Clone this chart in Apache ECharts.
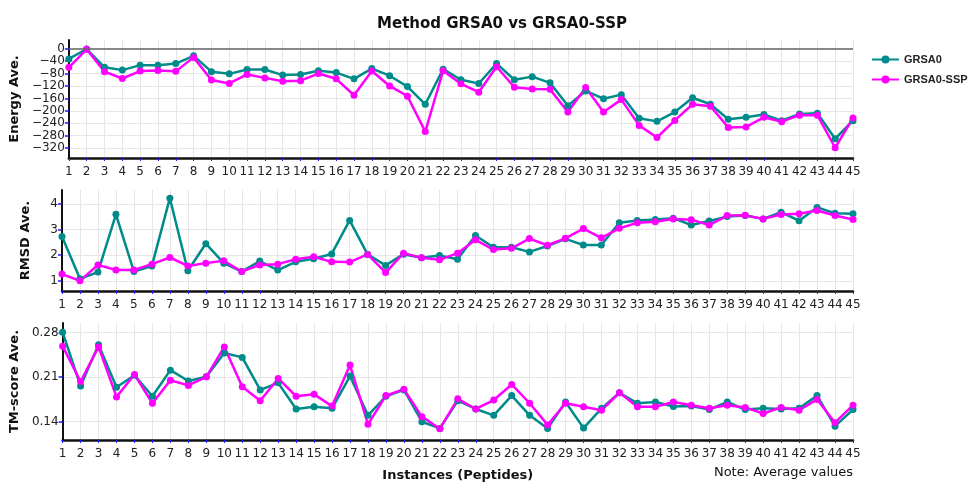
<!DOCTYPE html>
<html>
<head>
<meta charset="utf-8">
<script src="https://cdn.jsdelivr.net/npm/echarts@6/dist/echarts.min.js"></script>
<style>
  html, body { margin: 0; padding: 0; background: #fff; }
  #chart { width: 975px; height: 484px; }
</style>
</head>
<body>
<div id="chart"></div>
<script>
// peptides 1..45
var instances = [];
for (var i = 1; i <= 45; i++) instances.push(String(i));

var energyGrsa0 = [-33, -1, -60, -69, -53, -53, -48, -23, -74, -81, -67, -67, -85, -83, -71,
  -77, -97, -64, -87, -122, -179, -66, -100, -112, -48, -100, -90, -110, -184, -136,
  -161, -148, -224, -234, -204, -158, -179, -227, -221, -212, -232, -210, -208, -290, -232];
var energySsp = [-60, -2, -74, -96, -72, -70, -73, -28, -101, -112, -83, -94, -105, -103, -80,
  -97, -150, -72, -120, -153, -267, -71, -113, -140, -58, -124, -130, -131, -204, -125,
  -204, -164, -247, -286, -231, -179, -185, -254, -252, -221, -235, -214, -214, -319, -223];

var rmsdGrsa0 = [2.73, 1.08, 1.34, 3.60, 1.36, 1.58, 4.23, 1.39, 2.45, 1.69, 1.36, 1.77, 1.42, 1.74, 1.86,
  2.05, 3.36, 2.03, 1.60, 2.04, 1.90, 1.99, 1.84, 2.77, 2.31, 2.31, 2.13, 2.36, 2.64, 2.40,
  2.40, 3.27, 3.36, 3.40, 3.45, 3.18, 3.34, 3.51, 3.55, 3.42, 3.68, 3.35, 3.87, 3.64, 3.62];
var rmsdSsp = [1.26, 1.00, 1.62, 1.42, 1.42, 1.65, 1.91, 1.58, 1.69, 1.78, 1.36, 1.62, 1.65, 1.84, 1.94,
  1.74, 1.73, 2.03, 1.32, 2.08, 1.90, 1.82, 2.08, 2.60, 2.22, 2.27, 2.65, 2.39, 2.66, 3.04,
  2.68, 3.05, 3.27, 3.31, 3.42, 3.39, 3.18, 3.55, 3.56, 3.42, 3.59, 3.62, 3.75, 3.55, 3.40];

var tmGrsa0 = [0.2805, 0.196, 0.261, 0.194, 0.213, 0.180, 0.221, 0.204, 0.2105, 0.248, 0.241, 0.190, 0.201, 0.160, 0.1635,
  0.161, 0.2116, 0.150, 0.180, 0.190, 0.140, 0.1295, 0.173, 0.160, 0.150, 0.181, 0.150, 0.1295, 0.171, 0.130,
  0.161, 0.1855, 0.169, 0.171, 0.164, 0.1645, 0.159, 0.171, 0.159, 0.161, 0.160, 0.161, 0.181, 0.133, 0.159];
var tmSsp = [0.2586, 0.203, 0.2575, 0.179, 0.214, 0.169, 0.205, 0.197, 0.2105, 0.2575, 0.195, 0.173, 0.208, 0.180, 0.183,
  0.1645, 0.229, 0.136, 0.181, 0.191, 0.148, 0.129, 0.176, 0.160, 0.174, 0.1985, 0.169, 0.135, 0.169, 0.1635,
  0.158, 0.1855, 0.1635, 0.1635, 0.171, 0.166, 0.161, 0.166, 0.1625, 0.153, 0.1625, 0.158, 0.175, 0.1385, 0.166];

var energyTicks = [-320, -280, -240, -200, -160, -120, -80, -40, 0];
var rmsdTicks = [1, 2, 3, 4];
var tmTicks = [0.14, 0.21, 0.28];

var TEAL = '#008b8b';
var MAGENTA = '#ff00ff';
var FONT = 'DejaVu Sans';

var chart = echarts.init(document.getElementById('chart'));

var grids = [
  { left: 62, top: 40, width: 791, height: 118 },
  { left: 62, top: 190, width: 791, height: 101 },
  { left: 62, top: 323, width: 791, height: 117 }
];

function xAxisFor(idx, extra) {
  var ax = {
    type: 'category',
    gridIndex: idx,
    data: instances,
    boundaryGap: false,
    axisLine: { onZero: false, lineStyle: { color: '#111', width: 2.5 } },
    axisTick: { show: true, interval: 0, length: 3, lineStyle: { color: '#1a1aff', width: 1 } },
    axisLabel: { interval: 0, margin: 8, fontFamily: FONT, fontSize: 12, color: '#222' },
    splitLine: { show: true, interval: 0, lineStyle: { color: '#e6e6e6', width: 1 } }
  };
  return Object.assign(ax, extra || {});
}

function yAxisFor(idx, name, gap, min, max, ticks, fmt) {
  return {
    type: 'value',
    gridIndex: idx,
    min: min,
    max: max,
    name: name,
    nameLocation: 'middle',
    nameGap: gap,
    nameTextStyle: { fontFamily: FONT, fontSize: 13, fontWeight: 'bold', color: '#111' },
    axisLine: { show: true, lineStyle: { color: '#111', width: 2 } },
    axisTick: { show: true, length: 4, customValues: ticks, lineStyle: { color: '#1a1aff', width: 1.5 } },
    axisLabel: { customValues: ticks, margin: 4, fontFamily: FONT, fontSize: 12, color: '#222', formatter: fmt },
    splitLine: { show: true, lineStyle: { color: '#e6e6e6', width: 1 } }
  };
}

function lineSeries(name, color, xi, data, extra) {
  var s = {
    name: name,
    type: 'line',
    xAxisIndex: xi,
    yAxisIndex: xi,
    data: data,
    symbol: 'circle',
    symbolSize: 7,
    lineStyle: { color: color, width: 2.5 },
    itemStyle: { color: color },
    emphasis: { disabled: true },
    animation: false
  };
  return Object.assign(s, extra || {});
}

var option = {
  backgroundColor: '#fff',
  animation: false,
  title: {
    text: 'Method GRSA0 vs GRSA0-SSP',
    left: 497,
    top: 12,
    textAlign: 'center',
    textStyle: { fontFamily: FONT, fontSize: 15, fontWeight: 'bold', color: '#111' }
  },
  legend: {
    orient: 'vertical',
    left: 866,
    top: 49,
    itemWidth: 27,
    itemHeight: 10,
    itemGap: 9,
    data: ['GRSA0', 'GRSA0-SSP'],
    textStyle: { fontFamily: 'Liberation Sans', fontSize: 11, fontWeight: 'bold', color: '#222' }
  },
  grid: grids,
  xAxis: [
    xAxisFor(0),
    xAxisFor(1),
    xAxisFor(2, {
      name: 'Instances (Peptides)',
      nameLocation: 'middle',
      nameGap: 29,
      nameTextStyle: { fontFamily: FONT, fontSize: 13, fontWeight: 'bold', color: '#111' }
    })
  ],
  yAxis: [
    yAxisFor(0, 'Energy Ave.', 37, -352, 28, energyTicks, function (v) {
      return String(v).replace('-', '\u2212');
    }),
    yAxisFor(1, 'RMSD Ave.', 30, 0.6, 4.55, rmsdTicks, function (v) { return String(v); }),
    yAxisFor(2, 'TM-score Ave.', 33, 0.1113, 0.295, tmTicks, function (v) { return v.toFixed(2); })
  ],
  series: [
    lineSeries('GRSA0', TEAL, 0, energyGrsa0, {
      markLine: {
        silent: true,
        symbol: 'none',
        label: { show: false },
        lineStyle: { color: '#666', width: 1.5, type: 'solid' },
        data: [{ yAxis: 0 }]
      }
    }),
    lineSeries('GRSA0-SSP', MAGENTA, 0, energySsp),
    lineSeries('GRSA0', TEAL, 1, rmsdGrsa0),
    lineSeries('GRSA0-SSP', MAGENTA, 1, rmsdSsp),
    lineSeries('GRSA0', TEAL, 2, tmGrsa0),
    lineSeries('GRSA0-SSP', MAGENTA, 2, tmSsp)
  ],
  graphic: [
    {
      type: 'text',
      right: 122,
      top: 466,
      style: { text: 'Note: Average values', fontFamily: FONT, fontSize: 13, fill: '#111' }
    }
  ]
};

chart.setOption(option);
</script>
</body>
</html>
